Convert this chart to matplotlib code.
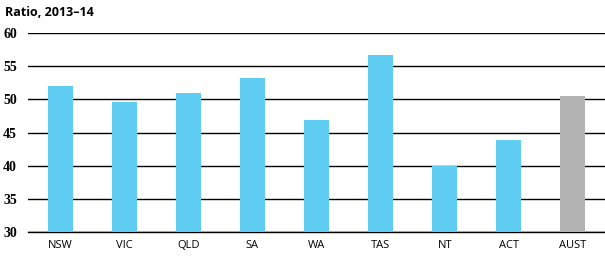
import matplotlib
matplotlib.use("Agg")
import matplotlib.pyplot as plt

categories = ["NSW", "VIC", "QLD", "SA", "WA", "TAS", "NT", "ACT", "AUST"]
values = [52.0, 49.6, 51.0, 53.2, 46.9, 56.7, 40.0, 43.8, 50.5]
colors = ["#5FCDF1"] * 8 + ["#B3B3B3"]
yticks = [30, 35, 40, 45, 50, 55, 60]

fig = plt.figure(figsize=(6.05, 2.66), dpi=100)
ax = fig.add_axes([28/605, 1 - 232/266, (605-28)/605, (232-33)/266])
x = list(range(len(categories)))
ax.bar(x, values, width=0.39, color=colors, zorder=3)
ax.set_xlim(-0.5, len(categories) - 0.5)
ax.set_ylim(30, 60)
ax.set_yticks(yticks)
ax.set_yticklabels([str(t) for t in yticks], fontfamily="Liberation Serif",
                   fontweight="bold", fontsize=10)
ax.set_xticks(x)
ax.set_xticklabels(categories, fontfamily="Open Sans", fontsize=8)
ax.tick_params(axis="both", length=0)
ax.tick_params(axis="y", pad=8)
ax.tick_params(axis="x", pad=6)
ax.grid(axis="y", color="black", linewidth=1.0, zorder=1)
for s in ["top", "right", "left"]:
    ax.spines[s].set_visible(False)
ax.spines["bottom"].set_color("black")
ax.spines["bottom"].set_linewidth(1.0)
fig.text(5/605, 1 - 12/266, "Ratio, 2013–14", fontfamily="Open Sans",
         fontweight="bold", fontsize=9, va="center", ha="left")
fig.savefig("out.png", dpi=100)
